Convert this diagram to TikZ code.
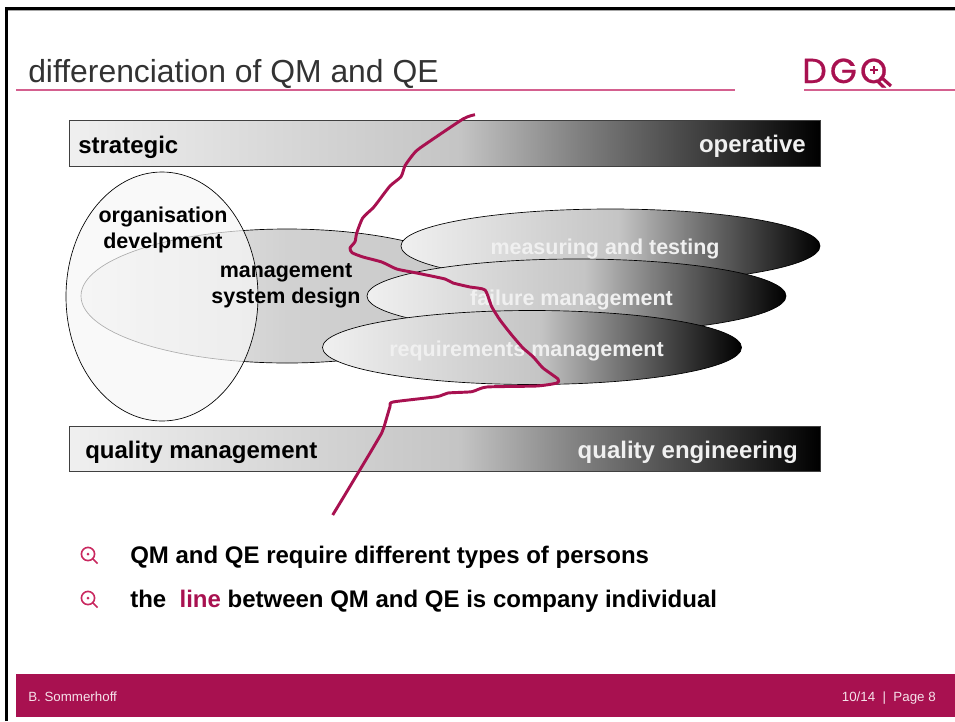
\documentclass[tikz,border=0pt]{standalone}
\usepackage{fontspec}
\setmainfont{Liberation Sans}
\newfontfamily\logofont{Poppins}
\usepackage{tikz}
\usetikzlibrary{shapes.geometric}
\definecolor{dgqred}{HTML}{A81150}
\definecolor{dgqpink}{HTML}{D4608F}
\definecolor{dgqbullet}{HTML}{C9285F}
\pgfdeclarehorizontalshading{qmshade}{100bp}{color(0bp)=(white!94!black); color(25bp)=(white!94!black); color(41.5bp)=(white!83!black); color(51bp)=(white!77!black); color(59bp)=(white!50!black); color(67bp)=(white!25!black); color(75bp)=(black); color(100bp)=(black)}
\pgfdeclarehorizontalshading{systemshade}{100bp}{color(0bp)=(white!95!black); color(25bp)=(white!95!black); color(50bp)=(white!82!black); color(75bp)=(white!78!black); color(100bp)=(white!78!black)}
\newcommand{\qmglass}{\draw[dgqbullet, line width=1.2pt] (0,0) circle (6.6);
					\draw[dgqbullet, line width=1.2pt] (4.6,4.6) -- (9.5,9.5);
					\fill[dgqbullet] (0,0) circle (1.5);}
\tikzset{
	labeltext/.style={font=\fontsize{18}{19.5}\selectfont\bfseries, inner sep=0pt},
	blobtext/.style={font=\fontsize{16.1}{19.5}\selectfont\bfseries, inner sep=0pt},
	qmbar/.style={rectangle, draw=black!75, line width=0.6pt, shading=qmshade, minimum width=563.25pt, minimum height=34.2pt, inner sep=0pt},
	qmblob/.style={ellipse, draw=black, line width=0.5pt, shading=qmshade, minimum width=314.25pt, minimum height=55.5pt, inner sep=0pt},
	whitetext/.style={labeltext, text=white!94!black},
	whiteblobtext/.style={blobtext, text=white!94!black},
	footertext/.style={font=\fontsize{10}{11}\selectfont, text=white!88!dgqred, inner sep=0pt}
}

\begin{document}
\begin{tikzpicture}[x=0.75pt, y=-0.75pt]
	\useasboundingbox (0,0) rectangle (955,721);

	\draw[black!35, line width=0.75pt] (8,10.5) -- (955,10.5);
	\draw[black, line width=2.4pt] (6.5,721) -- (6.5,8.5) -- (955,8.5);

	\node[anchor=base west, inner sep=0pt, font=\fontsize{23.9}{26}\selectfont, text=black!80] (title) at (28,82) {differenciation of QM and QE};
	\draw[dgqpink, line width=1.1pt] (16,90) -- (735,90);
	\draw[dgqpink, line width=1.1pt] (804,90) -- (955,90);

	\node[anchor=base west, inner sep=0pt, font=\logofont\fontsize{26}{28}\selectfont\addfontfeature{LetterSpace=9,FakeBold=0.7}, text=dgqred] (logo) at (802,83) {DGQ};
	\draw[dgqred, line width=1.1pt] (874,66) -- (874,74) (870,70) -- (878,70);
	\draw[dgqred, line width=2.4pt] (882,78) -- (891,86);

	\node[qmbar] (strategicbar) at (444.5,143.2) {};
	\node[labeltext, anchor=base west] (strategic) at (78,153) {strategic};
	\node[whitetext, anchor=base east] (operative) at (806,152) {operative};

	\node[qmblob, shading=systemshade, minimum width=309pt, minimum height=100.5pt] (systemblob) at (287,296) {};
	\node[ellipse, draw=black, line width=0.5pt, fill=white!97!black, fill opacity=0.7, minimum width=144pt, minimum height=186.75pt, inner sep=0pt] (organisationblob) at (162,296.5) {};
	\node[qmblob] (measuringblob) at (610.5,246) {};
	\node[qmblob] (failureblob) at (576.5,296) {};
	\node[qmblob] (requirementsblob) at (532,347.5) {};

	\node[blobtext, align=center] (organisation) at (163,230) {organisation\\develpment};
	\node[blobtext, align=center] (system) at (286,285.5) {management\\system design};
	\node[whiteblobtext, anchor=base] (measuring) at (605,254) {measuring and testing};
	\node[whiteblobtext, anchor=base] (failure) at (571.5,305) {failure management};
	\node[whiteblobtext, anchor=base] (requirements) at (526.5,356) {requirements management};

	\node[qmbar] (qualitybar) at (444.5,449) {};
	\node[labeltext, anchor=base west] (qualitymgmt) at (85,458) {quality management};
	\node[whitetext, anchor=base east] (qualityeng) at (798,458) {quality engineering};

	\draw[dgqred, line width=2.2pt, line join=round] plot[smooth, tension=0.35] coordinates {(475,114.7) (463,119) (420,148) (412.7,155) (405,165.7) (401,176.7) (390,186) (378,201.7) (373,208) (362.7,218) (356.7,233) (355,241.7) (350,248) (352,252.7) (363,257) (381.7,262) (396.7,269) (416.7,273) (445,279) (453,283) (470,287) (485,290) (491.7,306.7) (500,320) (511.7,335) (523,348) (533,356.7) (543,368) (558,379) (557,383) (536.7,386) (486.7,387) (471.7,391.7) (448,393) (436.7,396.7) (393,402) (390,406.7) (384,427) (381.7,433) (370,453) (358,473) (343,498) (332.7,515)};

	\begin{scope}[shift={(88,554)}]
		\qmglass
	\end{scope}
	\node[labeltext, anchor=base west] (firstpoint) at (130,563) {QM and QE require different types of persons};

	\begin{scope}[shift={(88,598)}]
		\qmglass
	\end{scope}
	\node[labeltext, anchor=base west] (secondpoint) at (130,607) {the\ \ \textcolor{dgqred}{line} between QM and QE is company individual};

	\fill[dgqred] (16,674) rectangle (955,717);
	\node[footertext, anchor=base west] (author) at (28,701) {B. Sommerhoff};
	\node[footertext, anchor=base east] (page) at (936,701) {10/14\ \ |\ \ Page 8};
\end{tikzpicture}
\end{document}
